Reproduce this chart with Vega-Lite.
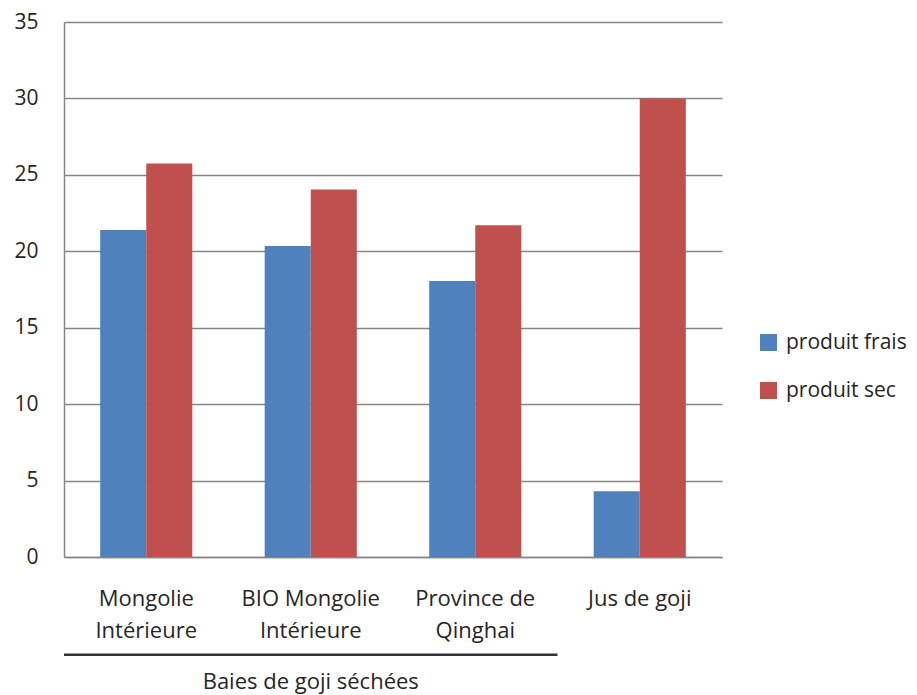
{
  "$schema": "https://vega.github.io/schema/vega-lite/v6.json",
  "width": 658,
  "height": 535,
  "autosize": {"type": "none"},
  "padding": {"left": 64, "top": 22, "right": 195, "bottom": 138},
  "background": "white",
  "config": {
    "view": {"stroke": null},
    "font": "Open Sans",
    "axis": {"labelFont": "Open Sans", "labelColor": "#262626", "labelFontSize": 21}
  },
  "datasets": {
    "mesures": [
      {"produit": "Mongolie Intérieure", "serie": "produit frais", "valeur": 21.4},
      {"produit": "Mongolie Intérieure", "serie": "produit sec", "valeur": 25.75},
      {"produit": "BIO Mongolie Intérieure", "serie": "produit frais", "valeur": 20.35},
      {"produit": "BIO Mongolie Intérieure", "serie": "produit sec", "valeur": 24.05},
      {"produit": "Province de Qinghai", "serie": "produit frais", "valeur": 18.05},
      {"produit": "Province de Qinghai", "serie": "produit sec", "valeur": 21.7},
      {"produit": "Jus de goji", "serie": "produit frais", "valeur": 4.3},
      {"produit": "Jus de goji", "serie": "produit sec", "valeur": 30.0}
    ],
    "groupes": [
      {"groupe": "Baies de goji séchées", "debut": "Mongolie Intérieure", "fin": "Province de Qinghai", "milieu": "BIO Mongolie Intérieure", "ligne": -6.4, "titre": -8.65}
    ]
  },
  "layer": [
    {
      "data": {"name": "mesures"},
      "mark": {"type": "bar"},
      "encoding": {
        "x": {
          "field": "produit",
          "type": "nominal",
          "scale": {
            "domain": ["Mongolie Intérieure", "BIO Mongolie Intérieure", "Province de Qinghai", "Jus de goji"],
            "paddingInner": 0.44,
            "paddingOuter": 0.22
          },
          "axis": {
            "title": null,
            "labelAngle": 0,
            "ticks": false,
            "domain": true,
            "domainColor": "#868686",
            "domainWidth": 1.5,
            "labelPadding": 31,
            "labelBaseline": "top",
            "labelLineHeight": 32,
            "labelFontSize": 22,
            "labelExpr": "datum.label == 'Mongolie Intérieure' ? ['Mongolie', 'Intérieure'] : datum.label == 'BIO Mongolie Intérieure' ? ['BIO Mongolie', 'Intérieure'] : datum.label == 'Province de Qinghai' ? ['Province de', 'Qinghai'] : datum.label"
          }
        },
        "xOffset": {
          "field": "serie",
          "type": "nominal",
          "scale": {"paddingInner": 0, "paddingOuter": 0}
        },
        "y": {
          "field": "valeur",
          "type": "quantitative",
          "scale": {"domain": [0, 35], "nice": false},
          "axis": {
            "title": null,
            "values": [0, 5, 10, 15, 20, 25, 30, 35],
            "ticks": false,
            "labelPadding": 26,
            "grid": true,
            "gridColor": "#868686",
            "gridWidth": 1.5,
            "domain": true,
            "domainColor": "#868686",
            "domainWidth": 1.5
          }
        },
        "color": {
          "field": "serie",
          "type": "nominal",
          "scale": {"domain": ["produit frais", "produit sec"], "range": ["#4F81BD", "#C0504D"]},
          "legend": {
            "title": null,
            "orient": "none",
            "legendX": 694,
            "legendY": 310,
            "symbolType": "square",
            "symbolSize": 289,
            "symbolStrokeWidth": 0,
            "labelFont": "Open Sans",
            "labelFontSize": 21,
            "labelColor": "#262626",
            "labelOffset": 7,
            "rowPadding": 26
          }
        }
      }
    },
    {
      "data": {"name": "groupes"},
      "mark": {"type": "rule", "color": "#333333", "strokeWidth": 2.5, "clip": false},
      "encoding": {
        "x": {"field": "debut", "type": "nominal", "bandPosition": -0.393},
        "x2": {"field": "fin", "bandPosition": 1.393},
        "y": {"field": "ligne", "type": "quantitative"}
      }
    },
    {
      "data": {"name": "groupes"},
      "mark": {"type": "text", "font": "Open Sans", "fontSize": 22, "color": "#262626", "baseline": "alphabetic", "align": "center", "clip": false},
      "encoding": {
        "x": {"field": "milieu", "type": "nominal", "bandPosition": 0.5},
        "y": {"field": "titre", "type": "quantitative"},
        "text": {"field": "groupe"}
      }
    }
  ]
}
